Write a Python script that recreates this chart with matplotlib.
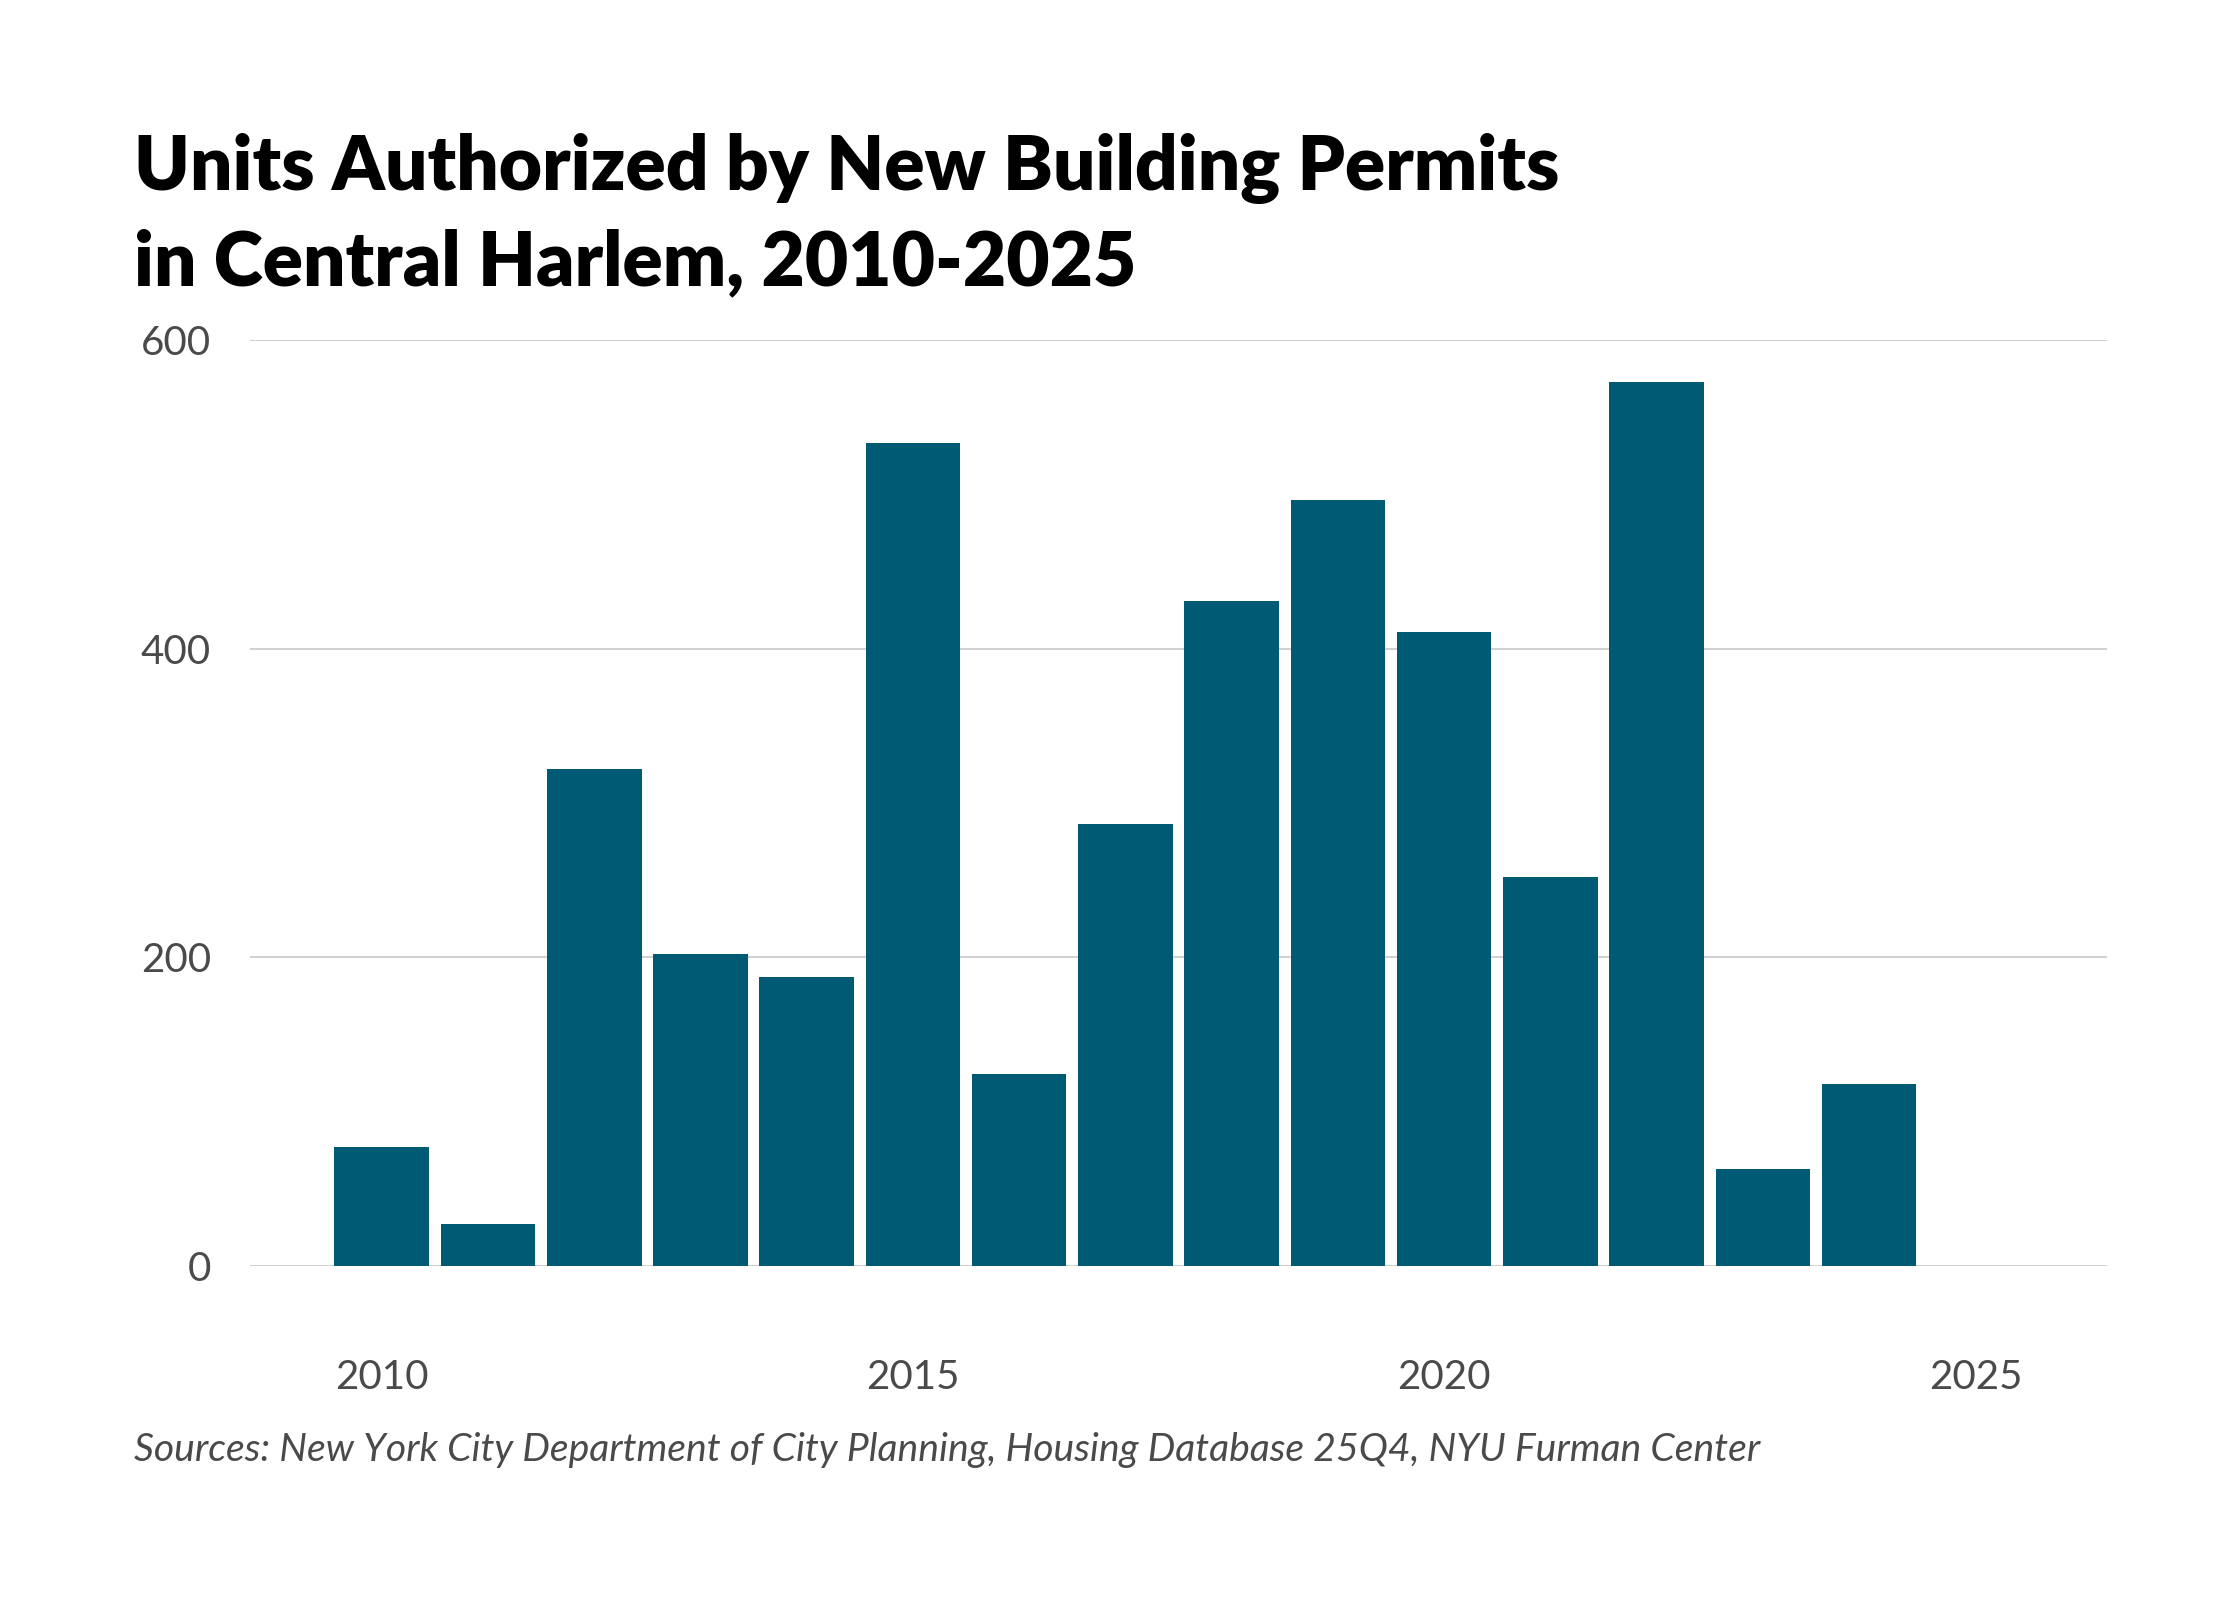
import matplotlib
matplotlib.use("Agg")
import matplotlib.pyplot as plt

# Units authorized by new building permits, Central Harlem
years = [2010, 2011, 2012, 2013, 2014, 2015, 2016, 2017,
         2018, 2019, 2020, 2021, 2022, 2023, 2024]
units = [77, 27, 322, 202, 187, 533, 124, 286,
         431, 496, 411, 252, 573, 63, 118]

y_ticks = [0, 200, 400, 600]
x_ticks = [2010, 2015, 2020, 2025]

title_lines = ["Units Authorized by New Building Permits",
               "in Central Harlem, 2010-2025"]
source_text = ("Sources: New York City Department of City Planning, "
               "Housing Database 25Q4, NYU Furman Center")

bar_color = "#005a73"
grid_color = "#c8c8c8"
label_color = "#4a4a4a"

fig = plt.figure(figsize=(11.2, 8), dpi=200)
ax = fig.add_axes((0.1116, 0.2089, 0.8291, 0.5786))

ax.bar(years, units, width=0.89, color=bar_color, zorder=2)

ax.set_xlim(2008.76, 2026.24)
ax.set_ylim(0, 600)
ax.set_yticks(y_ticks)
ax.set_xticks(x_ticks)
ax.yaxis.grid(True, color=grid_color, linewidth=0.6, zorder=0)
ax.set_axisbelow(True)
for side in ["top", "right", "left", "bottom"]:
    ax.spines[side].set_visible(False)
ax.tick_params(axis="both", length=0, labelcolor=label_color)
ax.tick_params(axis="y", pad=14)
ax.tick_params(axis="x", pad=33.5)
for lbl in ax.get_xticklabels() + ax.get_yticklabels():
    lbl.set_fontfamily("Lato")
    lbl.set_fontsize(14.5)

fig.text(0.0599, 0.8813, title_lines[0], fontsize=26.9, fontweight="heavy",
         family="Lato", color="black", va="baseline")
fig.text(0.0599, 0.8214, title_lines[1], fontsize=26.9, fontweight="heavy",
         family="Lato", color="black", va="baseline")

fig.text(0.0599, 0.0938, source_text, fontsize=14.1, style="italic",
         family="Lato", color=label_color, va="center")

plt.savefig("out.png", dpi=200)
